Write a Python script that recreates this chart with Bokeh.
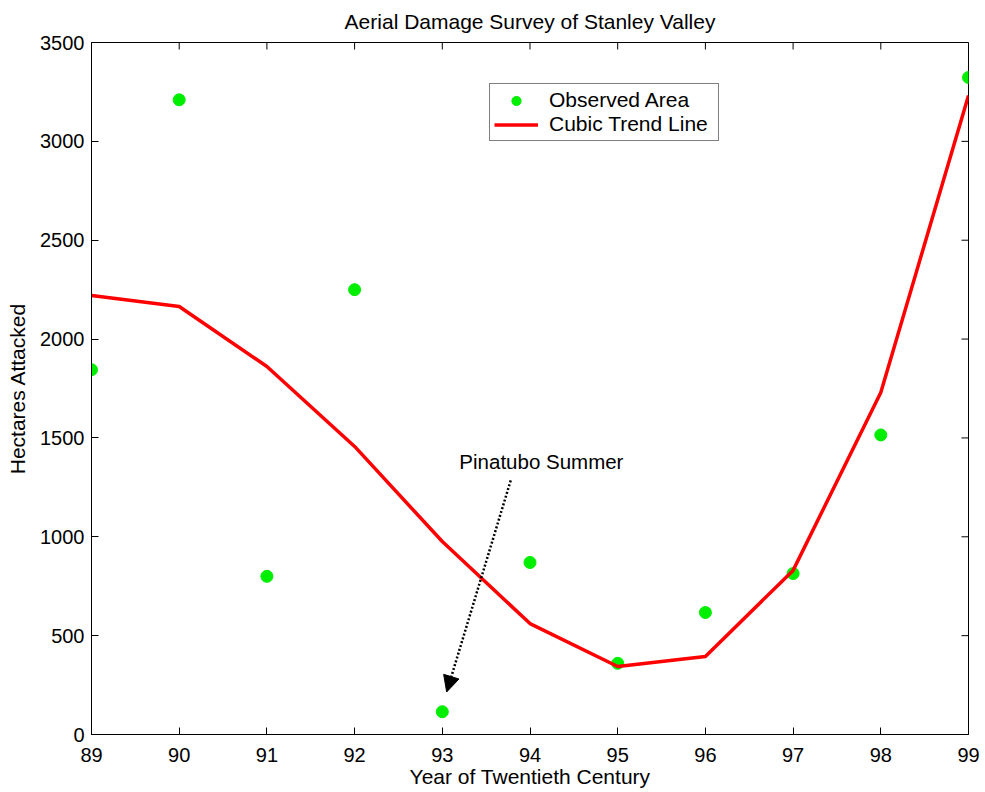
import math
from bokeh.plotting import figure
from bokeh.models import (ColumnDataSource, Range1d, FixedTicker, Arrow,
                          NormalHead, Label, Legend, LegendItem)
from bokeh.embed import file_html
from bokeh.resources import INLINE

years = [89, 90, 91, 92, 93, 94, 95, 96, 97, 98, 99]
observed = [1845, 3210, 800, 2250, 115, 870, 360, 617, 814, 1515, 3323]
trend = [2220, 2165, 1861, 1457, 976, 561, 344, 395, 830, 1730, 3232]
x_ticks = list(range(89, 100))
y_ticks = list(range(0, 3501, 500))
x_min, x_max = 89, 99
y_min, y_max = 0, 3500
title_text = "Aerial Damage Survey of Stanley Valley"
annot_text = "Pinatubo Summer"
annot_xy = (94.13, 1380)
arrow_from = (93.78, 1285)
arrow_to = (93.05, 215)

FONT = "Liberation Sans"
FS = "20px"
FS_L = "21px"

p = figure(width=985, height=792, output_backend="svg", toolbar_location=None,
           x_range=Range1d(x_min, x_max), y_range=Range1d(y_min, y_max),
           min_border_left=91, min_border_right=17, min_border_top=42, min_border_bottom=58,
           title=title_text)
p.title.align = "center"
p.title.vertical_align = "top"
p.title.text_font = FONT
p.title.text_font_size = FS_L
p.title.text_font_style = "normal"
p.title.text_color = "black"
p.title.offset = 0
p.title.standoff = 16
p.grid.visible = False
p.outline_line_color = "black"
p.outline_line_width = 1
p.background_fill_color = "white"
p.border_fill_color = "white"

for ax in (p.xaxis[0], p.yaxis[0]):
    ax.major_tick_in = 7
    ax.major_tick_out = 0
    ax.minor_tick_in = 0
    ax.minor_tick_out = 0
    ax.axis_line_color = "black"
    ax.major_tick_line_color = "black"
    ax.major_label_text_font = FONT
    ax.major_label_text_font_size = FS
    ax.major_label_text_color = "black"
    ax.axis_label_text_font = FONT
    ax.axis_label_text_font_size = FS_L
    ax.axis_label_text_font_style = "normal"
    ax.axis_label_text_color = "black"
p.xaxis.ticker = FixedTicker(ticks=x_ticks)
p.yaxis.ticker = FixedTicker(ticks=y_ticks)
p.xaxis.axis_label = "Year of Twentieth Century"
p.yaxis.axis_label = "Hectares Attacked"
p.xaxis.major_label_standoff = 13
p.xaxis.axis_label_standoff = 0
p.yaxis.major_label_standoff = 7
p.yaxis.axis_label_standoff = 8

# tick marks on the top and right edges of the box (clipped to the frame)
p.scatter(x=x_ticks, y=[y_max] * len(x_ticks), marker="dash", angle=math.pi / 2,
          size=14, line_color="black", line_width=1)
p.scatter(x=[x_max] * len(y_ticks), y=y_ticks, marker="dash", angle=0,
          size=14, line_color="black", line_width=1)

src = ColumnDataSource(dict(year=years, observed=observed, trend=trend))
r_obs = p.scatter("year", "observed", source=src, size=12, color="#00ee00", line_color="#00ee00")
r_trend = p.line("year", "trend", source=src, line_color="#ff0000", line_width=3.5)

arr = Arrow(x_start=arrow_from[0], y_start=arrow_from[1], x_end=arrow_to[0], y_end=arrow_to[1],
            line_color="black", line_width=2.5, line_dash="2 2",
            end=NormalHead(size=16, fill_color="black", line_color="black", line_width=1))
p.add_layout(arr)
p.add_layout(Label(x=annot_xy[0], y=annot_xy[1], text=annot_text, text_align="center",
                   text_baseline="middle", text_font=FONT, text_font_size="20.5px",
                   text_color="black"))

legend = Legend(items=[LegendItem(label="Observed Area", renderers=[r_obs]),
                       LegendItem(label="Cubic Trend Line", renderers=[r_trend])],
                location=(398, 593), label_text_font=FONT, label_text_font_size=FS_L,
                label_text_color="black",
                border_line_color="black", border_line_width=1, padding=4, spacing=0,
                label_height=23, label_width=165, glyph_height=23, glyph_width=44, margin=0,
                label_standoff=11, background_fill_alpha=1)
p.add_layout(legend)

open("out.html", "w").write(file_html(p, INLINE))
